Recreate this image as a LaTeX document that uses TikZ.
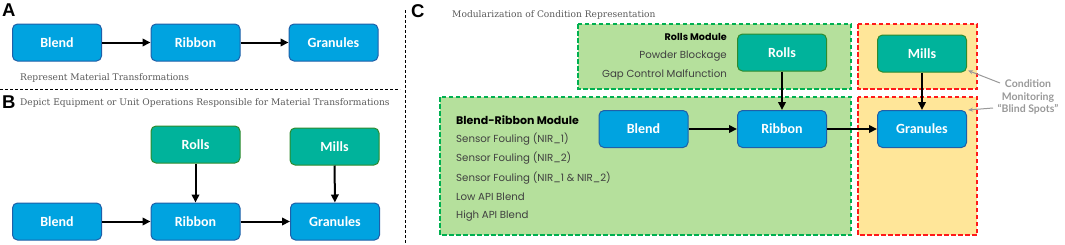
\documentclass[tikz,border=0pt]{standalone}
\usepackage{fontspec}
\usetikzlibrary{arrows.meta}
\newfontfamily\boxfont{Carlito}
\newfontfamily\letfont{Liberation Sans}
\newfontfamily\modfont{Poppins}
\newfontfamily\serfont{DejaVu Serif}
\newfontfamily\notefont{Lato}
\definecolor{bluefill}{HTML}{00A3E0}
\definecolor{blueline}{HTML}{1F5FA8}
\definecolor{tealfill}{HTML}{00B39B}
\definecolor{tealline}{HTML}{2E8B2E}
\definecolor{modfill}{HTML}{B5E09C}
\definecolor{modline}{HTML}{00B050}
\definecolor{blindfill}{HTML}{FFE699}
\definecolor{blindline}{HTML}{FF1A1A}
\definecolor{captxt}{HTML}{595959}
\definecolor{modtxt}{HTML}{404040}
\definecolor{notetxt}{HTML}{999999}
\tikzset{
  box/.style={rounded corners=5pt, line width=1pt, minimum width=89pt, minimum height=37pt,
    inner sep=0pt, text=white, font=\boxfont\bfseries\fontsize{14}{15}\selectfont},
  matbox/.style={box, fill=bluefill, draw=blueline},
  eqbox/.style={box, fill=tealfill, draw=tealline},
  flow/.style={line width=2pt, -{Triangle[length=8pt,width=7.5pt]}},
  panellabel/.style={font=\letfont\bfseries\fontsize{18.5}{19}\selectfont, inner sep=0pt, anchor=north west},
  captext/.style={font=\serfont\fontsize{9.1}{10}\selectfont, text=captxt, inner sep=0pt, anchor=west},
  modframe/.style={draw=modline, fill=modfill, line width=1.8pt, dash pattern=on 4.5pt off 2.5pt},
  blindframe/.style={draw=blindline, fill=blindfill, line width=1.8pt, dash pattern=on 4.5pt off 2.5pt},
  modhead/.style={font=\modfont\bfseries\fontsize{10}{11}\selectfont, text=black, inner sep=0pt},
  moditem/.style={font=\modfont\fontsize{10.2}{11}\selectfont, text=modtxt, inner sep=0pt},
  sepline/.style={line width=1pt, dash pattern=on 3pt off 2pt},
  notetext/.style={font=\notefont\bfseries\fontsize{10.5}{12.5}\selectfont, text=notetxt, align=center, inner sep=0pt},
  pointer/.style={draw=notetxt, line width=1pt, -{Stealth[length=5pt,width=4pt]}}
}
\begin{document}
\begin{tikzpicture}[x=1pt,y=-1pt]
\useasboundingbox (0,0) rectangle (1065,244);
% ---------- Panel A ----------
\node[panellabel] (lA) at (2,4) {A};
\node[matbox] (aBlend) at (57,42.5) {Blend};
\node[matbox] (aRibbon) at (195.5,42.5) {Ribbon};
\node[matbox] (aGran) at (333.5,42.5) {Granules};
\draw[flow] (aBlend) -- (aRibbon);
\draw[flow] (aRibbon) -- (aGran);
\node[captext] (capA) at (20,78) {Represent Material Transformations};
\draw[sepline] (0,89) -- (400,89);
% ---------- Panel B ----------
\node[panellabel] (lB) at (2,96) {B};
\node[captext] (capB) at (20,102.5) {Depict Equipment or Unit Operations Responsible for Material Transformations};
\node[eqbox] (bRolls) at (195.5,144.5) {Rolls};
\node[eqbox] (bMills) at (334.5,146.5) {Mills};
\node[matbox] (bBlend) at (57,221.5) {Blend};
\node[matbox] (bRibbon) at (195.5,221.5) {Ribbon};
\node[matbox] (bGran) at (335,221.5) {Granules};
\draw[flow] (bBlend) -- (bRibbon);
\draw[flow] (bRibbon) -- (bGran);
\draw[flow] (bRolls) -- (bRibbon);
\draw[flow] (bMills) -- (bGran);
\draw[sepline] (405,10) -- (405,244);
% ---------- Panel C ----------
\node[panellabel] (lC) at (411,4) {C};
\node[captext] (capC) at (452,15) {Modularization of Condition Representation};
\path[modframe] (578,24) rectangle (851,89);
\path[modframe] (440,97) rectangle (851,235);
\path[blindframe] (858,24) rectangle (977,89);
\path[blindframe] (858,97) rectangle (977,235);
\node[modhead, anchor=east, font=\modfont\bfseries\fontsize{9.6}{11}\selectfont] (rmHead) at (727,37) {Rolls Module};
\node[moditem, anchor=east] (rm1) at (727,56) {Powder Blockage};
\node[moditem, anchor=east] (rm2) at (727,75) {Gap Control Malfunction};
\node[modhead, anchor=west, font=\modfont\bfseries\fontsize{11}{12}\selectfont] (brHead) at (456,120) {Blend-Ribbon Module};
\node[moditem, anchor=west] (br1) at (456,139) {Sensor Fouling (NIR\_1)};
\node[moditem, anchor=west] (br2) at (456,158) {Sensor Fouling (NIR\_2)};
\node[moditem, anchor=west] (br3) at (456,178) {Sensor Fouling (NIR\_1 \& NIR\_2)};
\node[moditem, anchor=west] (br4) at (456,197) {Low API Blend};
\node[moditem, anchor=west] (br5) at (456,216) {High API Blend};
\node[eqbox] (cRolls) at (782,52.5) {Rolls};
\node[eqbox] (cMills) at (922,53.5) {Mills};
\node[matbox] (cBlend) at (643.5,129) {Blend};
\node[matbox] (cRibbon) at (782,129) {Ribbon};
\node[matbox] (cGran) at (922,129) {Granules};
\draw[flow] (cBlend) -- (cRibbon);
\draw[flow] (cRibbon) -- (cGran);
\draw[flow] (cRolls) -- (cRibbon);
\draw[flow] (cMills) -- (cGran);
\node[notetext] (blind) at (1028,97) {Condition\\Monitoring\\“Blind Spots”};
\coordinate (p1s) at (1000,83);
\coordinate (p2s) at (993,108);
\draw[pointer] (p1s) -- ([xshift=1pt,yshift=2pt]cMills.south east);
\draw[pointer] (p2s) -- ([xshift=1pt]cGran.north east);
\end{tikzpicture}
\end{document}
